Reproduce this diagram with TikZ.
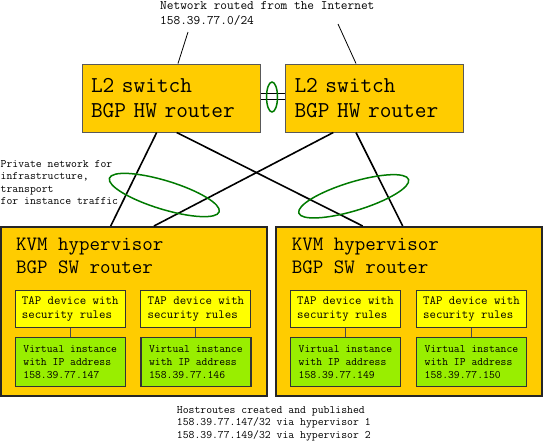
\documentclass[tikz,border=0pt]{standalone}
\usepackage{fontspec}
\usetikzlibrary{positioning}
\definecolor{boxorange}{HTML}{FFCC00}
\definecolor{tapyellow}{HTML}{FFFF00}
\definecolor{vmgreen}{HTML}{99EE00}
\definecolor{ringgreen}{HTML}{007A00}

\begin{document}
\begin{tikzpicture}[x=1pt,y=-1pt,
    switchbox/.style={draw=black!65, line width=1pt, fill=boxorange, inner xsep=9pt, inner ysep=0pt,
      text width=160pt, minimum height=68pt, align=left, font=\ttfamily\fontsize{22.7}{25}\selectfont},
    hvbox/.style={draw=black!85, line width=2pt, fill=boxorange, minimum width=266pt, minimum height=169pt},
    hvtext/.style={anchor=north west, inner sep=0pt, align=left, font=\ttfamily\fontsize{20.4}{22.6}\selectfont},
    tapbox/.style={draw=black!80, line width=1pt, fill=tapyellow, inner sep=0pt,
      minimum width=110pt, minimum height=37.4pt, align=left, font=\ttfamily\fontsize{12.5}{14}\selectfont},
    vmbox/.style={draw=black!80, line width=1.2pt, fill=vmgreen, inner sep=0pt,
      minimum width=110pt, minimum height=49.4pt, align=left, font=\ttfamily\fontsize{11.35}{13.3}\selectfont},
    note/.style={anchor=north west, inner sep=0pt, align=left, font=\ttfamily\fontsize{11.4}{12.3}\selectfont},
    wire/.style={line width=1.6pt},
    ring/.style={draw=ringgreen, line width=1.5pt}]
      \useasboundingbox (0,0) rectangle (543,440);
      \node[switchbox] (sw_1) at (171,98) {L2 switch\\BGP HW router};
      \node[switchbox] (sw_2) at (374.5,98) {L2 switch\\BGP HW router};
      \node[hvbox] (hv_1) at (134,311.5) {};
      \node[hvbox] (hv_2) at (409,311.5) {};
      \node[hvtext] (hvt_1) at (16,238.2) {KVM hypervisor\\BGP SW router};
      \node[hvtext] (hvt_2) at (291.7,238.2) {KVM hypervisor\\BGP SW router};
      \node[tapbox] (tap_1) at (70.2,309) {TAP device with\\security rules};
      \node[tapbox] (tap_2) at (195.9,309) {TAP device with\\security rules};
      \node[tapbox] (tap_3) at (345.5,309) {TAP device with\\security rules};
      \node[tapbox] (tap_4) at (471.5,309) {TAP device with\\security rules};
      \node[vmbox] (vm_1) [below=8.6pt of tap_1] {Virtual instance\\with IP address\\158.39.77.147};
      \node[vmbox] (vm_2) [below=8.6pt of tap_2] {Virtual instance\\with IP address\\158.39.77.146};
      \node[vmbox] (vm_3) [below=8.6pt of tap_3] {Virtual instance\\with IP address\\158.39.77.149};
      \node[vmbox] (vm_4) [below=8.6pt of tap_4] {Virtual instance\\with IP address\\158.39.77.150};
      \node[anchor=north west, inner sep=0pt, align=left, font=\ttfamily\fontsize{13}{15}\selectfont] (net) at (160,1.2)
        {Network routed from the Internet\\158.39.77.0/24};
      \node[note] (private) at (0.5,160.3) {Private network for\\infrastructure,\\transport\\for instance traffic};
      \node[note] (hostroutes) at (176.7,406.3)
        {Hostroutes created and published\\158.39.77.147/32 via hypervisor 1\\158.39.77.149/32 via hypervisor 2};
      \coordinate (inet_1) at (188,32);
      \coordinate (inet_2) at (338,24);
      \draw[line width=0.8pt] (inet_1) -- ([xshift=7pt]sw_1.north);
      \draw[line width=0.8pt] (inet_2) -- ([xshift=-18.5pt]sw_2.north);
      \draw[double, double distance=5pt, line width=1.2pt] ([yshift=1.3pt]sw_1.east) -- ([yshift=1.3pt]sw_2.west);
      \draw[ring] (272,97) ellipse [x radius=5.5pt, y radius=15pt];
      \draw[wire] ([xshift=-14.3pt]sw_1.south) -- ([xshift=-23.3pt]hv_1.north);
      \draw[wire] ([xshift=5.7pt]sw_1.south) -- ([xshift=-46.3pt]hv_2.north);
      \draw[wire] ([xshift=-41.2pt]sw_2.south) -- ([xshift=20pt]hv_1.north);
      \draw[wire] ([xshift=-18.5pt]sw_2.south) -- ([xshift=-6.3pt]hv_2.north);
      \draw[ring, rotate around={-17:(164.3,195)}] (164.3,195) ellipse [x radius=57.4pt, y radius=14.3pt];
      \draw[ring, rotate around={17:(353.7,196.3)}] (353.7,196.3) ellipse [x radius=57.4pt, y radius=14.3pt];
      \foreach \i in {1,...,4}
        \draw[black!70, line width=1pt] (tap_\i) -- (vm_\i);
    \end{tikzpicture}
\end{document}
